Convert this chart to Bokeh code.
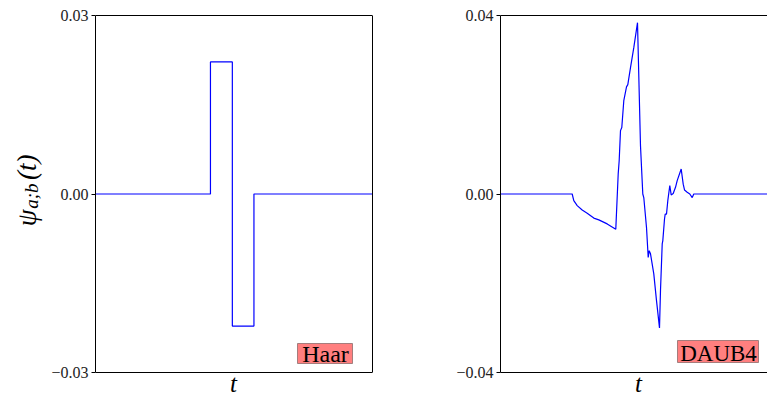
from math import pi

from bokeh.plotting import figure
from bokeh.layouts import row
from bokeh.models import (Label, BoxAnnotation, Span, FixedTicker, LinearAxis,
                          CustomJSTickFormatter, Range1d)
from bokeh.core.properties import value
from bokeh.embed import file_html
from bokeh.resources import INLINE

# Haar wavelet psi_{a;b}(t): breakpoints of the step function
haar_t = [0.0, 0.415, 0.415, 0.494, 0.494, 0.572, 0.572, 1.0]
haar_psi = [0.0, 0.0, 0.0222, 0.0222, -0.0222, -0.0222, 0.0, 0.0]
haar_yticks = [-0.03, 0.0, 0.03]

# Daubechies-4 wavelet psi_{a;b}(t), sampled
daub_t = [0.0, 0.2588, 0.2646, 0.2769, 0.2949, 0.3130, 0.3368, 0.3549, 0.3852,
          0.4162, 0.4249, 0.4285, 0.4332, 0.4379, 0.4451, 0.4549, 0.4596, 0.4693,
          0.4812, 0.4946, 0.5054, 0.5137, 0.5173, 0.5271, 0.5332, 0.5368, 0.5415,
          0.5534, 0.5632, 0.5740, 0.5776, 0.5838, 0.5859, 0.5921, 0.5946, 0.5993,
          0.6040, 0.6112, 0.6162, 0.6235, 0.6318, 0.6379, 0.6523, 0.6596, 0.6643,
          0.6740, 0.6834, 0.6921, 0.6978, 0.7076, 1.0]
daub_psi = [0.0, 0.0, -0.0015, -0.0026, -0.0036, -0.0043, -0.0054, -0.0058, -0.0067,
            -0.0079, 0.0045, 0.0075, 0.0142, 0.0149, 0.0209, 0.0240, 0.0245, 0.0283,
            0.0328, 0.0384, 0.0108, 0.0, -0.0008, -0.0075, -0.0142, -0.0127, -0.0134,
            -0.0179, -0.0239, -0.0300, -0.0216, -0.0112, -0.0105, -0.0056, -0.0045, -0.0045,
            -0.0015, 0.0019, -0.0002, 0.0001, 0.0015, 0.0030, 0.0056, 0.0022, 0.0009,
            0.0004, 0.0, -0.0008, 0.0, 0.0, 0.0]
daub_yticks = [-0.04, 0.0, 0.04]

SERIF = "Liberation Serif"
LINE = "#0000ff"
H = 396                       # canvas height
BOX_TOP, BOX_BOTTOM = 15, 24  # pixel margins between the axes box and the canvas edges

tick_fmt = CustomJSTickFormatter(code="""
    if (Math.abs(tick) < 1e-12) return "0.00";
    return (tick < 0 ? "\\u2212" : "") + Math.abs(tick).toFixed(2);
""")


def bare_axis(ax):
    ax.ticker = FixedTicker(ticks=[], minor_ticks=[])
    ax.major_tick_out = 0
    ax.major_tick_in = 0
    ax.minor_tick_out = 0
    ax.minor_tick_in = 0
    ax.major_label_standoff = 0


def make_panel(width, border_left, border_right, yticks, x_end, right_spine):
    lim = yticks[-1]
    # the frame fills the full height; the axes box sits inside it
    k = 2 * lim / (H - BOX_TOP - BOX_BOTTOM)
    p = figure(width=width, height=H,
               x_range=Range1d(0, x_end),
               y_range=Range1d(-lim - BOX_BOTTOM * k, lim + BOX_TOP * k),
               output_backend="svg", toolbar_location=None,
               x_axis_location=None,
               min_border_left=border_left, min_border_right=border_right,
               min_border_top=0, min_border_bottom=0,
               background_fill_color="white", border_fill_color="white")
    p.outline_line_color = None
    p.xgrid.visible = False
    p.ygrid.visible = False

    ax = p.yaxis[0]
    ax.bounds = (-lim, lim)
    ax.ticker = FixedTicker(ticks=yticks, minor_ticks=[])
    ax.formatter = tick_fmt
    ax.major_tick_out = 4
    ax.major_tick_in = 0
    ax.minor_tick_out = 0
    ax.minor_tick_in = 0
    ax.major_label_standoff = 3
    ax.major_label_text_font = SERIF
    ax.major_label_text_font_size = "16px"
    ax.major_label_text_color = "#222222"
    ax.axis_line_color = "black"
    ax.axis_line_width = 1
    ax.major_tick_line_color = "black"

    for loc in (lim, -lim):
        p.add_layout(Span(location=loc, dimension="width",
                          line_color="black", line_width=1))
    if right_spine:
        ra = LinearAxis(bounds=(-lim, lim), axis_line_color="black", axis_line_width=1)
        bare_axis(ra)
        ra.major_label_text_font_size = "0px"
        p.add_layout(ra, "right")

    # x label t, centred under the axes box
    p.add_layout(Label(x=138, y=13, x_units="screen", y_units="screen", text="t",
                       text_font=SERIF, text_font_style="italic",
                       text_font_size="25px", text_color="black",
                       text_align="center", text_baseline="alphabetic"))
    return p


def add_tag(p, text, left, right, bottom, top, tx, ty, size):
    p.add_layout(BoxAnnotation(left=left, right=right, bottom=bottom, top=top,
                               left_units="screen", right_units="screen",
                               bottom_units="screen", top_units="screen",
                               fill_color="red", fill_alpha=0.5,
                               line_color="black", line_alpha=0.35, line_width=1))
    p.add_layout(Label(x=tx, y=ty, x_units="screen", y_units="screen", text=text,
                       text_font=SERIF, text_font_size=size, text_color="black",
                       text_align="center", text_baseline="alphabetic"))


# Strip holding the rotated y label psi_{a;b}(t), in pixel coordinates
# (y measured up from the bottom); each piece is anchored at its upper end
ylab = figure(width=45, height=H, x_range=Range1d(0, 45), y_range=Range1d(0, H),
              output_backend="svg", toolbar_location=None,
              x_axis_location=None, y_axis_location=None,
              min_border_left=0, min_border_right=0, min_border_top=0, min_border_bottom=0,
              background_fill_color="white", border_fill_color="white")
ylab.outline_line_color = None
ylab.xgrid.visible = False
ylab.ygrid.visible = False
for txt, x, y, size in [("ψ", 26, 187, "27px"), ("a;b", 31, 213, "19px"),
                        ("(t)", 26, 242, "27px")]:
    ylab.text(x=[x], y=[y], text=[txt], angle=pi / 2,
              text_font=value(SERIF), text_font_style="italic",
              text_font_size=size, text_color="black",
              text_align="right", text_baseline="alphabetic")

# Left panel: Haar
left = make_panel(355, 50, 28, haar_yticks, 1.0, True)
left.line(haar_t, haar_psi, line_color=LINE, line_width=1.2)
add_tag(left, "Haar", 202, 257, 33, 53, 230, 43, "24px")

# Right panel: DAUB4 (frame runs to the window edge)
right = make_panel(367, 100, 0, daub_yticks, 267 / 277, False)
right.line(daub_t, daub_psi, line_color=LINE, line_width=1.2)
add_tag(right, "DAUB4", 177, 258, 34, 56, 218, 43, "23px")

layout = row(ylab, left, right)
open("out.html", "w").write(file_html(layout, INLINE))
